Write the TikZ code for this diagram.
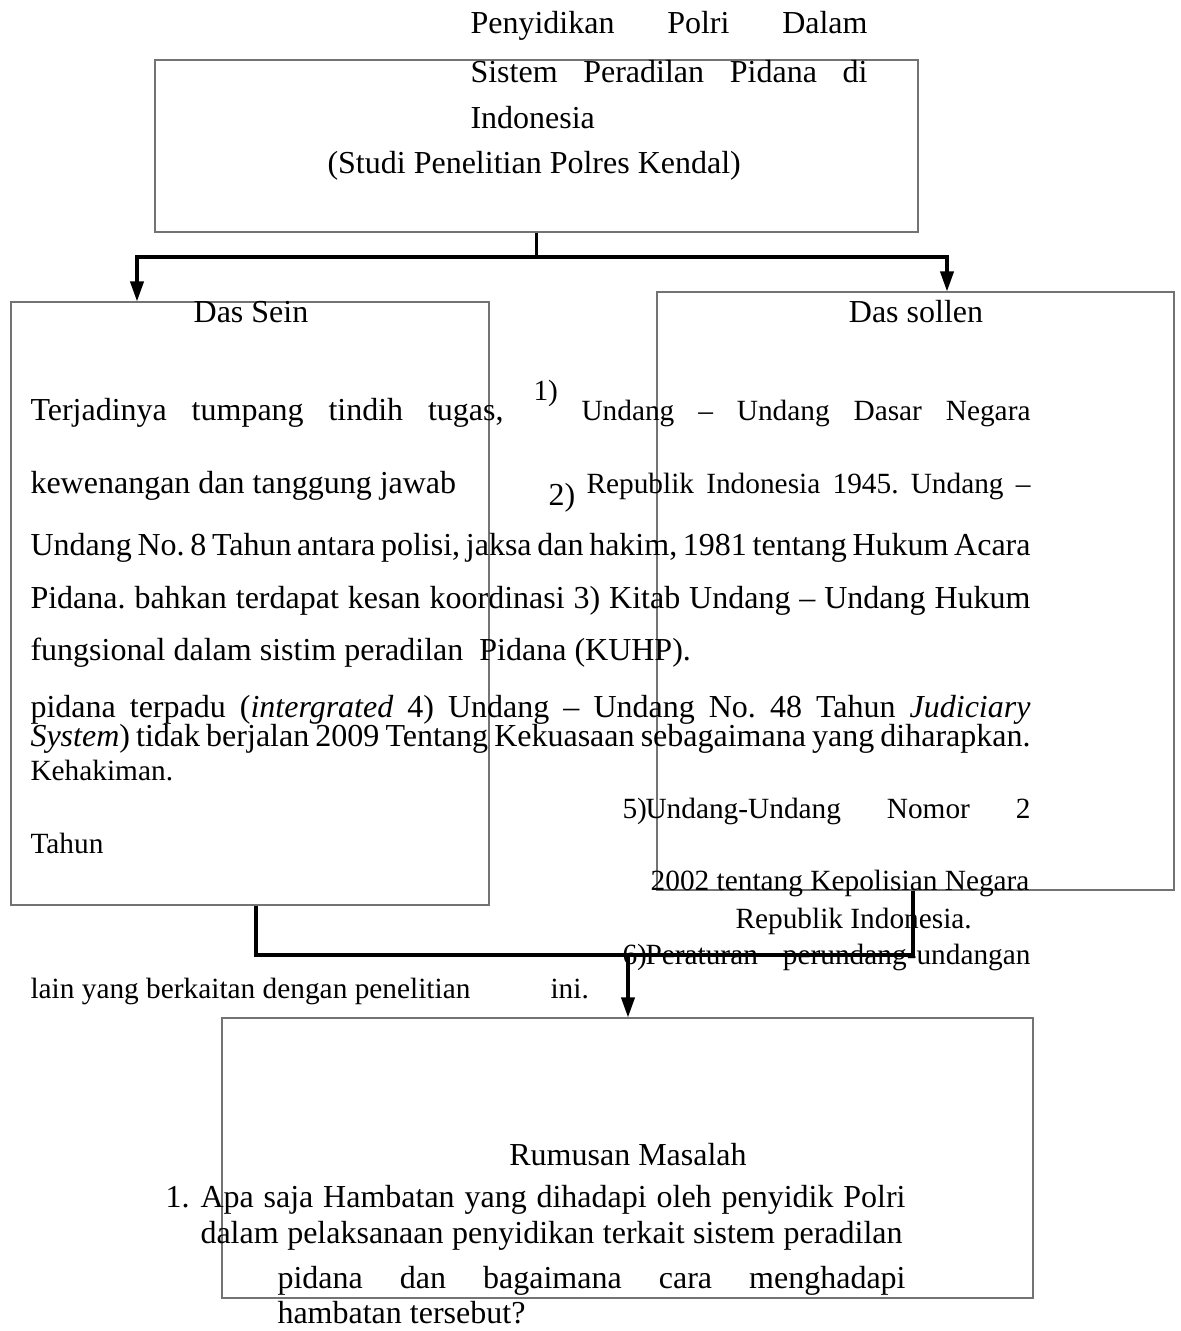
\documentclass[tikz,border=0pt]{standalone}
\usepackage{fontspec}
\setmainfont{Liberation Serif}
\usetikzlibrary{arrows.meta}
\frenchspacing
\newdimen\px \px=0.375pt
\newcommand\jl[2]{\makebox[#1\px][s]{#2}}
\tikzset{
  box/.style={draw=black!55, line width=0.5pt, inner sep=0pt},
  link/.style={line width=1.15pt},
  arr/.style={-{Triangle[length=7.5pt,width=5pt]}},
  txt/.style={anchor=base west, inner sep=0pt, font=\fontsize{12}{14}\selectfont},
  sm/.style={txt, font=\fontsize{11}{13}\selectfont},
}
\begin{document}
\begin{tikzpicture}[x=0.375pt, y=-0.375pt]
  \useasboundingbox (0,0) rectangle (1181,1331);
  % kotak
  \node[box, minimum width=763\px, minimum height=172\px] (judul) at (536.5,146) {};
  \node[box, minimum width=478\px, minimum height=603\px] (sein) at (250,603.5) {};
  \node[box, minimum width=517\px, minimum height=598\px] (sollen) at (915.5,591) {};
  \node[box, minimum width=811\px, minimum height=280\px] (rumus) at (627.5,1158) {};
  % judul
  \node[txt] (j1) at (470,33) {\jl{397}{Penyidikan Polri Dalam}};
  \node[txt] (j2) at (470,82) {\jl{397}{Sistem Peradilan Pidana di}};
  \node[txt] (j3) at (470,128) {Indonesia};
  \node[txt] (j4) at (327,173) {(Studi Penelitian Polres Kendal)};
  % das sein / das sollen
  \node[txt, anchor=base] (hsein) at (251,322) {Das Sein};
  \node[txt, anchor=base] (hsollen) at (916,322) {Das sollen};
  \node[txt] (s1) at (30,420) {\jl{473}{Terjadinya tumpang tindih tugas,}};
  \node[sm] (n1) at (533,400) {1)};
  \node[sm] (u1) at (581,420) {\jl{449}{Undang – Undang Dasar Negara}};
  \node[txt] (s2) at (30,493) {kewenangan dan tanggung jawab};
  \node[txt] (n2) at (548,505) {2)};
  \node[sm] (u2) at (586,493) {\jl{444}{Republik Indonesia 1945. Undang –}};
  \node[txt] (s3) at (30,555) {\jl{1000}{Undang No. 8 Tahun antara polisi, jaksa dan hakim, 1981 tentang Hukum Acara}};
  \node[txt] (s4) at (30,608) {\jl{1000}{Pidana. bahkan terdapat kesan koordinasi 3) Kitab Undang – Undang Hukum}};
  \node[txt] (s5) at (30,660) {fungsional dalam sistim peradilan\ \ Pidana (KUHP).};
  \node[txt] (s6) at (30,717) {\jl{1000}{pidana terpadu (\textit{intergrated} 4) Undang – Undang No. 48 Tahun \textit{Judiciary}}};
  \node[txt] (s7) at (30,746) {\jl{1000}{\textit{System}) tidak berjalan 2009 Tentang Kekuasaan sebagaimana yang diharapkan.}};
  \node[sm] (s8) at (30,780) {Kehakiman.};
  \node[sm] (n5) at (622,818) {5)};
  \node[sm] (u5) at (645,818) {\jl{385}{Undang-Undang Nomor 2}};
  \node[sm] (s9) at (30,853) {Tahun};
  \node[sm, anchor=base east] (u5b) at (1030,890) {2002 tentang Kepolisian Negara};
  \node[sm] (u5c) at (735,928) {Republik Indonesia.};
  \node[sm] (n6) at (622,964) {6)};
  \node[sm] (u6) at (645,964) {\jl{385}{Peraturan perundang-undangan}};
  \node[sm] (s10) at (30,998) {lain yang berkaitan dengan penelitian};
  \node[sm] (s11) at (550,998) {ini.};
  % rumusan masalah
  \node[txt, anchor=base] (hrumus) at (628,1165) {Rumusan Masalah};
  \node[txt] (r0) at (165,1207) {1.};
  \node[txt] (r1) at (200,1207) {\jl{705}{Apa saja Hambatan yang dihadapi oleh penyidik Polri}};
  \node[txt] (r2) at (200,1243) {\jl{702}{dalam pelaksanaan penyidikan terkait sistem peradilan}};
  \node[txt] (r3) at (277,1288) {\jl{628}{pidana dan bagaimana cara menghadapi}};
  \node[txt] (r4) at (277,1323) {hambatan tersebut?};
  % penghubung
  \coordinate (split) at (536.5,257);
  \coordinate (splitL) at (137,257);
  \coordinate (splitR) at (947,257);
  \coordinate (joinL) at (256,955);
  \coordinate (joinR) at (913,955);
  \coordinate (joinM) at (628,955);
  \draw[link] (judul.south) -- (split);
  \draw[link, arr] (split) -- (splitL) -- (splitL |- sein.north);
  \draw[link, arr] (split) -- (splitR) -- (splitR |- sollen.north);
  \draw[link] (joinL |- sein.south) -- (joinL) -- (joinR) -- (joinR |- sollen.south);
  \draw[link, arr] (joinM) -- (joinM |- rumus.north);
\end{tikzpicture}
\end{document}
